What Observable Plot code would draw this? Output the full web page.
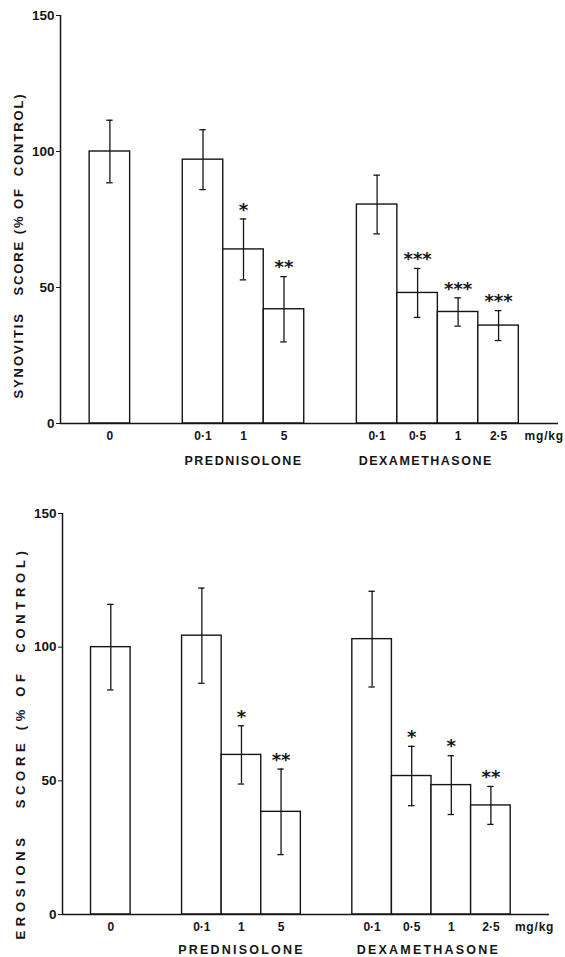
<!DOCTYPE html>
<html>
<head>
<meta charset="utf-8">
<script src="https://cdn.jsdelivr.net/npm/d3@7"></script>
<script src="https://cdn.jsdelivr.net/npm/@observablehq/plot@0.6"></script>
<style>
  html, body { margin: 0; padding: 0; background: #fff; }
  #wrap { width: 565px; }
  svg { display: block; }
</style>
</head>
<body>
<div id="wrap"></div>
<script>
// ---- data ----
const groupNames = ["", "PREDNISOLONE", "DEXAMETHASONE"];
const doseLabels = ["0", "0·1", "1", "5", "0·1", "0·5", "1", "2·5"];
const doseGroup = [0, 1, 1, 1, 2, 2, 2, 2];
const unitLabel = "mg/kg";
const yTicks = [0, 50, 100, 150];

const synovitisMean = [100, 97, 64, 42, 80.5, 48, 41, 36];
const synovitisSem = [11.5, 11, 11.2, 12, 10.8, 9, 5.2, 5.5];
const synovitisStars = ["", "", "*", "**", "", "***", "***", "***"];
const synovitisLabel = "SYNOVITIS\u00a0\u00a0\u00a0SCORE (%\u00a0OF\u00a0\u00a0CONTROL)";

const erosionsMean = [100, 104.3, 59.7, 38.4, 103, 51.8, 48.4, 40.8];
const erosionsSem = [16, 17.8, 10.9, 16, 17.9, 11.1, 11, 7.1];
const erosionsStars = ["", "", "*", "**", "", "*", "*", "**"];
const erosionsLabel = "EROSIONS\u00a0\u00a0\u00a0SCORE (%\u00a0OF\u00a0\u00a0CONTROL)";

// ---- layout helpers (slot units: one bar = 1) ----
const lead = 0.72, groupGap = 1.3, xMax = 12.3, capHalf = 0.08;

function panel({means, sems, stars, label, height, mt, mb, ml, mr, labelDy, labelSpacing, groupSpacing, groupDy, groupShift, mgDx}) {
  const rows = doseLabels.map((d, i) => {
    const pos = lead + i + doseGroup[i] * groupGap;
    return {dose: d, group: doseGroup[i], mean: means[i], sem: sems[i], star: stars[i],
            x1: pos, x2: pos + 1, c: pos + 0.5, lo: means[i] - sems[i], hi: means[i] + sems[i]};
  });
  const groupsRows = groupNames.map((name, g) => {
    const r = rows.filter(d => d.group === g);
    return {name, c: (r[0].x1 + r[r.length - 1].x2) / 2 + groupShift[g]};
  }).filter(d => d.name);
  const last = rows[rows.length - 1];
  const ink = "#151515";
  const chart = Plot.plot({
    width: 565, height,
    marginTop: mt, marginBottom: mb, marginLeft: ml, marginRight: mr,
    style: {fontFamily: "'Liberation Sans', Arial, sans-serif", fontWeight: "bold", color: ink, background: "#fff"},
    x: {domain: [0, xMax], axis: null},
    y: {domain: [0, 150], axis: null},
    marks: [
      Plot.rectY(rows, {x1: "x1", x2: "x2", y: "mean", fill: "white", stroke: ink, strokeWidth: 1.4}),
      Plot.ruleX(rows, {x: "c", y1: "lo", y2: "hi", stroke: ink, strokeWidth: 1.3}),
      Plot.ruleY(rows, {y: "lo", x1: d => d.c - capHalf, x2: d => d.c + capHalf, stroke: ink, strokeWidth: 1.3}),
      Plot.ruleY(rows, {y: "hi", x1: d => d.c - capHalf, x2: d => d.c + capHalf, stroke: ink, strokeWidth: 1.3}),
      Plot.text(rows.filter(d => d.star), {x: "c", y: "hi", text: "star", dy: -9, fontSize: 18, fontFamily: "'DejaVu Sans', sans-serif", fontWeight: "bold", fill: ink}),
      Plot.ruleX([0], {stroke: ink, strokeWidth: 1.5}),
      Plot.ruleY([0], {stroke: ink, strokeWidth: 1.5}),
      Plot.axisY({ticks: yTicks, tickSize: 4, tickPadding: 2, fontSize: 13.5, label: null, stroke: ink}),
      Plot.text(rows, {x: "c", y: 0, text: "dose", dy: 13, fontSize: 12, fill: ink}),
      Plot.text([last], {x: "c", y: 0, text: () => unitLabel, dx: mgDx, dy: 13, textAnchor: "start", fontSize: 12, fill: ink}),
      Plot.text(groupsRows, {x: "c", y: 0, text: "name", dy: groupDy, fontSize: 12.5, fill: ink}),
      Plot.text([label], {frameAnchor: "left", textAnchor: "middle", rotate: -90, dx: -42, dy: labelDy, fontSize: 13, fill: ink})
    ]
  });
  d3.select(chart).selectAll("text").each(function() {
    const t = this.textContent;
    if (groupNames.includes(t) && t) d3.select(this).style("letter-spacing", groupSpacing + "px");
    if (t === label) d3.select(this).style("letter-spacing", labelSpacing + "px");
    if (t === unitLabel) d3.select(this).style("letter-spacing", "0.8px");
  });
  return chart;
}

const wrap = document.getElementById("wrap");
wrap.appendChild(panel({means: synovitisMean, sems: synovitisSem, stars: synovitisStars, label: synovitisLabel,
  height: 470, mt: 15, mb: 47, ml: 60, mr: 7, labelDy: 26, labelSpacing: 1.9, groupSpacing: 1.5, groupDy: 37,
  groupShift: [0, 0, -0.3], mgDx: 26}));
wrap.appendChild(panel({means: erosionsMean, sems: erosionsSem, stars: erosionsStars, label: erosionsLabel,
  height: 487, mt: 43, mb: 43, ml: 62, mr: 16, labelDy: 29, labelSpacing: 4.7, groupSpacing: 2.2, groupDy: 35,
  groupShift: [0, 0, -0.08], mgDx: 24}));
</script>
</body>
</html>
